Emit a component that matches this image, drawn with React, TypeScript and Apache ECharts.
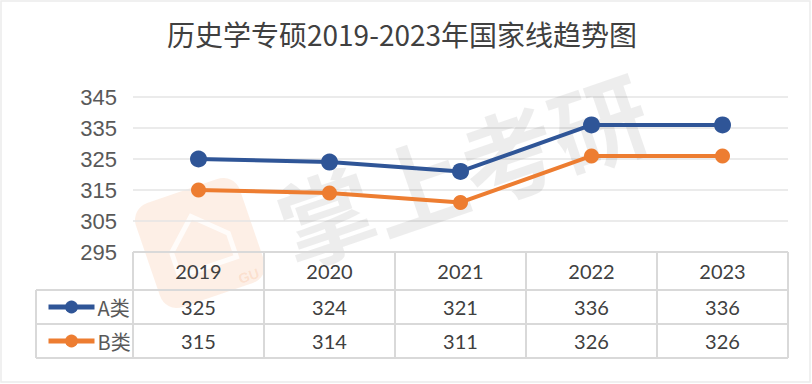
import React, { useEffect, useRef } from "react";
import * as echarts from "echarts";

const TITLE = "历史学专硕2019-2023年国家线趋势图";
const years = ["2019", "2020", "2021", "2022", "2023"];
const seriesNames = ["A类", "B类"];
const aValues = [325, 324, 321, 336, 336];
const bValues = [315, 314, 311, 326, 326];
const yMin = 295;
const yMax = 345;
const yStep = 10;
const WATERMARK = "掌上考研";

const BLUE = "#2F5597";
const ORANGE = "#ED7D31";
const GRIDC = "#d9d9d9";
const TEXTC = "#404040";

const W = 812;
const H = 384;
const GL = 133;
const GR = 788;
const GT = 97;
const GB = 252;
const ROW1 = 290;
const ROW2 = 324;
const ROW3 = 358;
const LEG_L = 36;

export default function App() {
  const ref = useRef<HTMLDivElement>(null);
  useEffect(() => {
    if (!ref.current) return;
    const chart = echarts.init(ref.current, undefined, { renderer: "svg" });
    const n = years.length;
    const colW = (GR - GL) / n;
    const lines: any[] = [];
    const ln = (x1: number, y1: number, x2: number, y2: number) => ({
      type: "line",
      z: 5,
      silent: true,
      shape: { x1, y1, x2, y2 },
      style: { stroke: GRIDC, lineWidth: 2 },
    });
    lines.push(ln(GL, GB, GR, GB));
    [ROW1, ROW2, ROW3].forEach((y) => lines.push(ln(LEG_L, y, GR, y)));
    lines.push(ln(LEG_L, ROW1, LEG_L, ROW3));
    for (let i = 0; i <= n; i++) {
      const x = GL + i * colW;
      lines.push(ln(x, GB, x, ROW3));
    }
    const valueAxis = (data: number[], offset: number) => ({
      type: "category",
      gridIndex: 0,
      position: "bottom",
      offset,
      data: data.map(String),
      boundaryGap: true,
      axisLine: { show: false },
      axisTick: { show: false },
      axisLabel: {
        margin: 7,
        fontSize: 20,
        lineHeight: 20,
        color: TEXTC,
        fontFamily: "Lato, 'Noto Sans', sans-serif",
      },
    });
    chart.setOption({
      animation: false,
      backgroundColor: "#ffffff",
      title: {
        text: TITLE,
        left: 162,
        top: 15,
        textStyle: {
          fontSize: 28,
          fontWeight: "normal",
          color: TEXTC,
          fontFamily: "'Noto Sans CJK SC', sans-serif",
        },
      },
      legend: {
        orient: "vertical",
        left: 41,
        top: ROW1 + 2,
        itemWidth: 46,
        itemHeight: 16,
        itemGap: 14,
        data: seriesNames,
        lineStyle: { width: 5 },
        textStyle: {
          fontSize: 20,
          lineHeight: 20,
          color: "#595959",
          padding: [0, 0, 0, -2],
          fontFamily: "'Noto Sans CJK SC', sans-serif",
        },
      },
      grid: { left: GL, right: W - GR, top: GT, bottom: H - GB },
      xAxis: [
        {
          type: "category",
          data: years,
          boundaryGap: true,
          axisLine: { show: false },
          axisTick: { show: false },
          axisLabel: {
            margin: 9,
            fontSize: 20,
            lineHeight: 20,
            color: TEXTC,
            fontFamily: "Lato, 'Noto Sans', sans-serif",
          },
        },
        valueAxis(aValues, ROW1 - GB),
        valueAxis(bValues, ROW2 - GB),
      ],
      yAxis: {
        type: "value",
        min: yMin,
        max: yMax,
        interval: yStep,
        axisLine: { show: false },
        axisTick: { show: false },
        splitLine: { lineStyle: { color: "#e4e4e4", width: 1.5 } },
        axisLabel: {
          margin: 16,
          fontSize: 22,
          color: "#595959",
          fontFamily: "'Liberation Sans', Arial, sans-serif",
        },
      },
      series: [
        {
          name: seriesNames[0],
          type: "line",
          data: aValues,
          xAxisIndex: 0,
          symbol: "circle",
          symbolSize: 17,
          lineStyle: { color: BLUE, width: 4 },
          itemStyle: { color: BLUE },
          z: 4,
        },
        {
          name: seriesNames[1],
          type: "line",
          data: bValues,
          xAxisIndex: 0,
          symbol: "circle",
          symbolSize: 15,
          lineStyle: { color: ORANGE, width: 4 },
          itemStyle: { color: ORANGE },
          z: 3,
        },
      ],
      graphic: [
        ...lines,
        {
          type: "rect",
          silent: true,
          z: -1,
          shape: { x: 1, y: 1, width: W - 3, height: H - 3 },
          style: { fill: "none", stroke: "#ececec", lineWidth: 1.5 },
        },
        {
          type: "group",
          x: 200,
          y: 243,
          rotation: 0.33,
          z: 1,
          silent: true,
          children: [
            {
              type: "rect",
              shape: { x: -55, y: -55, width: 110, height: 110, r: 18 },
              style: { fill: "rgba(237,125,49,0.12)" },
            },
            {
              type: "polyline",
              shape: { points: [[-30, 0], [0, -28], [30, 0], [30, 25], [-30, 25], [-30, 0]] },
              style: { fill: "none", stroke: "rgba(255,255,255,0.8)", lineWidth: 5 },
            },
            {
              type: "text",
              style: {
                x: 25,
                y: 40,
                text: "GU",
                fontSize: 14,
                fontWeight: "bold",
                fill: "rgba(237,125,49,0.15)",
              },
            },
          ],
        },
        {
          type: "text",
          x: 462,
          y: 167,
          rotation: 0.33,
          z: 1,
          silent: true,
          style: {
            text: WATERMARK,
            fontSize: 96,
            fontWeight: "bold",
            fill: "rgba(0,0,0,0.07)",
            align: "center",
            verticalAlign: "middle",
            fontFamily: "'Noto Sans CJK SC', sans-serif",
          },
        },
      ],
    });
    return () => chart.dispose();
  }, []);
  return (
    <div
      ref={ref}
      style={{ position: "fixed", left: 0, top: 0, width: W, height: H }}
    />
  );
}
